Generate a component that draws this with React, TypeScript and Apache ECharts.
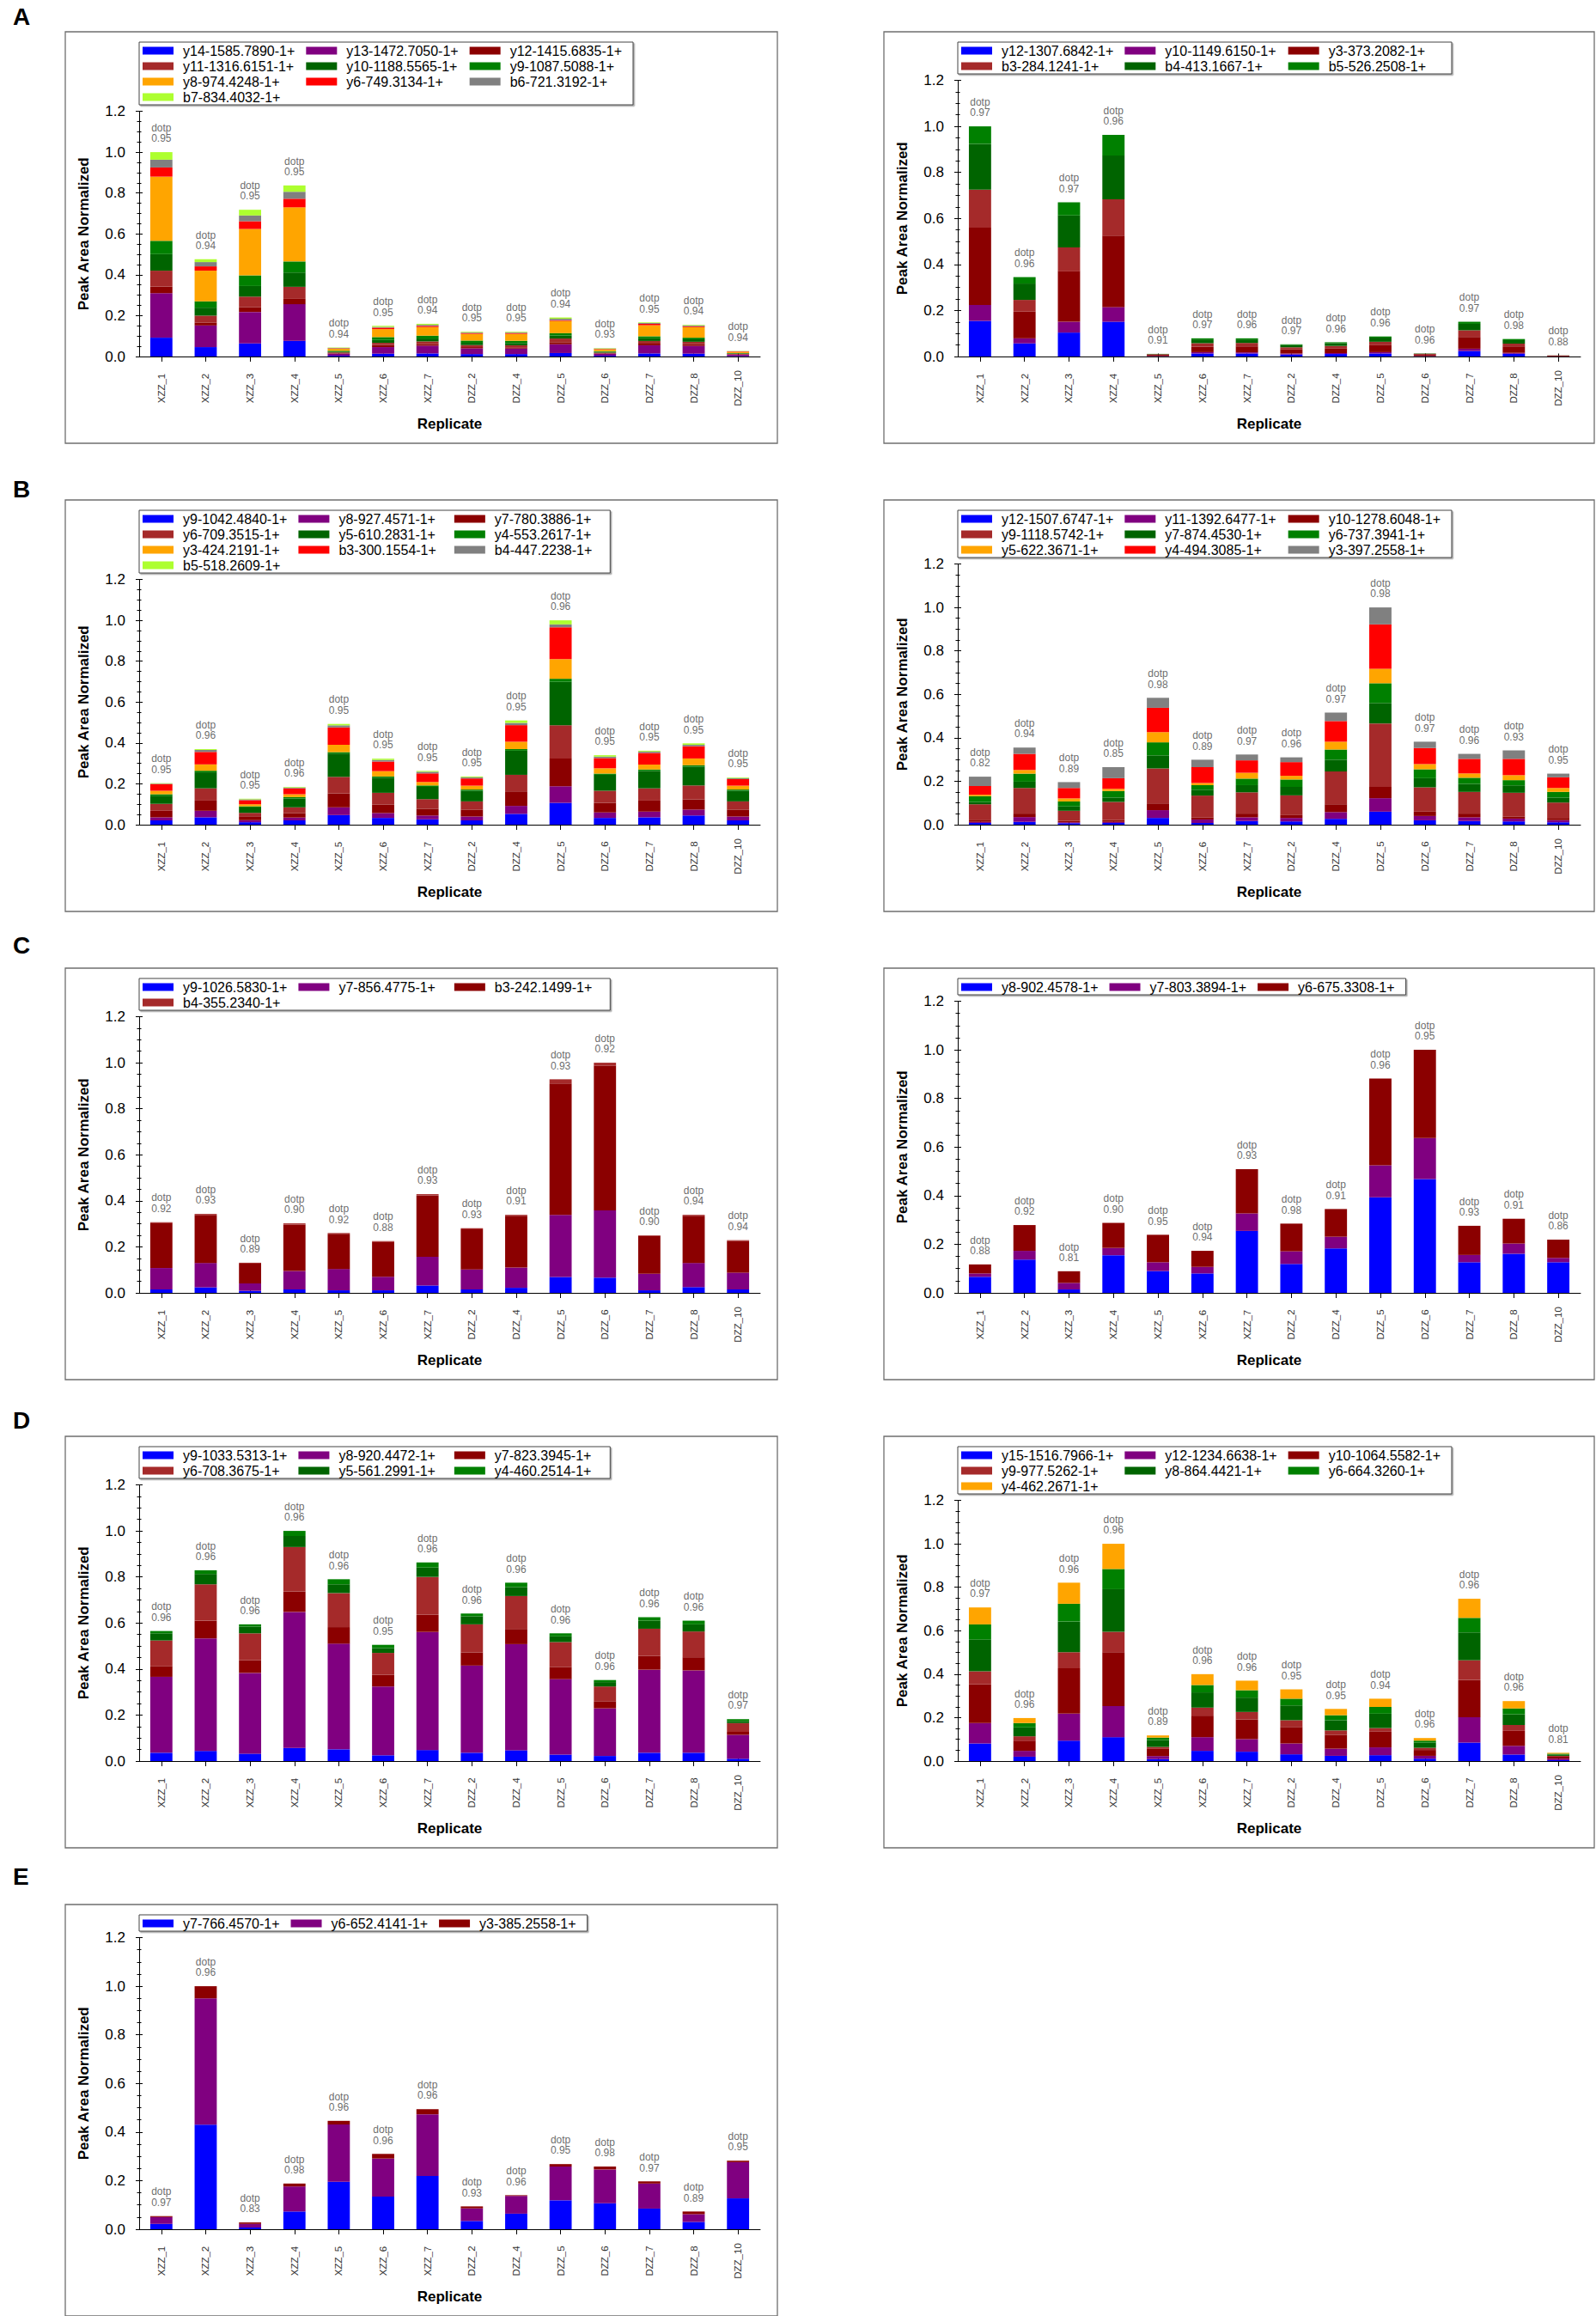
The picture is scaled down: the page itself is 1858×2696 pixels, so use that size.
import React, { useEffect, useRef } from "react";
import * as echarts from "echarts";

// ---------------- DATA ----------------
const replicates = ["XZZ_1", "XZZ_2", "XZZ_3", "XZZ_4", "XZZ_5", "XZZ_6", "XZZ_7", "DZZ_2", "DZZ_4", "DZZ_5", "DZZ_6", "DZZ_7", "DZZ_8", "DZZ_10"];
const yTickLabels = ["0.0", "0.2", "0.4", "0.6", "0.8", "1.0", "1.2"];
const panelLetters = ["A", "B", "C", "D", "E"];

// Panel A (left)
const ionsA1 = ["y14-1585.7890-1+", "y13-1472.7050-1+", "y12-1415.6835-1+", "y11-1316.6151-1+", "y10-1188.5565-1+", "y9-1087.5088-1+", "y8-974.4248-1+", "y6-749.3134-1+", "b6-721.3192-1+", "b7-834.4032-1+"];
const valuesA1 = [
  [0.092, 0.046, 0.064, 0.077, 0.004, 0.014, 0.015, 0.012, 0.012, 0.017, 0.004, 0.015, 0.014, 0.002],
  [0.218, 0.106, 0.154, 0.179, 0.010, 0.032, 0.038, 0.028, 0.027, 0.043, 0.010, 0.040, 0.038, 0.007],
  [0.032, 0.013, 0.024, 0.026, 0.002, 0.010, 0.008, 0.006, 0.006, 0.010, 0.002, 0.008, 0.008, 0.002],
  [0.078, 0.035, 0.051, 0.059, 0.004, 0.011, 0.013, 0.010, 0.010, 0.018, 0.003, 0.013, 0.012, 0.002],
  [0.081, 0.039, 0.052, 0.070, 0.004, 0.014, 0.014, 0.011, 0.011, 0.015, 0.004, 0.013, 0.012, 0.002],
  [0.065, 0.031, 0.052, 0.054, 0.004, 0.014, 0.014, 0.011, 0.011, 0.011, 0.003, 0.010, 0.008, 0.002],
  [0.314, 0.150, 0.227, 0.265, 0.010, 0.039, 0.042, 0.033, 0.034, 0.060, 0.009, 0.054, 0.052, 0.006],
  [0.045, 0.021, 0.038, 0.042, 0.002, 0.007, 0.006, 0.004, 0.004, 0.004, 0.002, 0.007, 0.004, 0.002],
  [0.038, 0.021, 0.028, 0.034, 0.002, 0.004, 0.005, 0.003, 0.003, 0.007, 0.002, 0.004, 0.004, 0.001],
  [0.037, 0.014, 0.028, 0.031, 0.002, 0.005, 0.005, 0.003, 0.003, 0.006, 0.002, 0.003, 0.003, 0.001],
];
const dotpA1 = [0.95, 0.94, 0.95, 0.95, 0.94, 0.95, 0.94, 0.95, 0.95, 0.94, 0.93, 0.95, 0.94, 0.94];

// Panel A (right)
const ionsA2 = ["y12-1307.6842-1+", "y10-1149.6150-1+", "y3-373.2082-1+", "b3-284.1241-1+", "b4-413.1667-1+", "b5-526.2508-1+"];
const valuesA2 = [
  [0.155, 0.057, 0.104, 0.151, 0.001, 0.013, 0.013, 0.009, 0.011, 0.013, 0.001, 0.024, 0.012, 0.0005],
  [0.069, 0.022, 0.047, 0.064, 0.001, 0.006, 0.005, 0.004, 0.004, 0.006, 0.001, 0.010, 0.004, 0.0005],
  [0.336, 0.116, 0.219, 0.310, 0.006, 0.024, 0.026, 0.019, 0.021, 0.030, 0.008, 0.051, 0.028, 0.003],
  [0.165, 0.051, 0.104, 0.158, 0.002, 0.015, 0.015, 0.008, 0.010, 0.015, 0.002, 0.029, 0.012, 0.0005],
  [0.199, 0.071, 0.139, 0.190, 0.001, 0.016, 0.015, 0.010, 0.012, 0.018, 0.001, 0.028, 0.015, 0.0003],
  [0.076, 0.028, 0.057, 0.090, 0.0005, 0.005, 0.005, 0.003, 0.004, 0.005, 0.0005, 0.009, 0.005, 0.0002],
];
const dotpA2 = [0.97, 0.96, 0.97, 0.96, 0.91, 0.97, 0.96, 0.97, 0.96, 0.96, 0.96, 0.97, 0.98, 0.88];

// Panel B (left)
const ionsB1 = ["y9-1042.4840-1+", "y8-927.4571-1+", "y7-780.3886-1+", "y6-709.3515-1+", "y5-610.2831-1+", "y4-553.2617-1+", "y3-424.2191-1+", "b3-300.1554-1+", "b4-447.2238-1+", "b5-518.2609-1+"];
const valuesB1 = [
  [0.021, 0.036, 0.012, 0.021, 0.047, 0.033, 0.026, 0.021, 0.053, 0.107, 0.033, 0.036, 0.045, 0.021],
  [0.015, 0.032, 0.010, 0.014, 0.038, 0.024, 0.019, 0.019, 0.039, 0.081, 0.027, 0.028, 0.029, 0.019],
  [0.032, 0.050, 0.019, 0.022, 0.068, 0.042, 0.033, 0.034, 0.071, 0.136, 0.047, 0.054, 0.050, 0.034],
  [0.034, 0.060, 0.017, 0.028, 0.081, 0.057, 0.047, 0.040, 0.081, 0.162, 0.059, 0.060, 0.068, 0.040],
  [0.040, 0.078, 0.026, 0.043, 0.114, 0.074, 0.060, 0.052, 0.118, 0.213, 0.078, 0.085, 0.092, 0.052],
  [0.007, 0.008, 0.006, 0.007, 0.007, 0.006, 0.007, 0.006, 0.008, 0.015, 0.006, 0.007, 0.007, 0.006],
  [0.017, 0.031, 0.010, 0.014, 0.036, 0.026, 0.017, 0.019, 0.036, 0.096, 0.026, 0.024, 0.033, 0.019],
  [0.033, 0.061, 0.020, 0.029, 0.085, 0.047, 0.042, 0.035, 0.081, 0.156, 0.050, 0.057, 0.060, 0.032],
  [0.002, 0.010, 0.004, 0.004, 0.010, 0.008, 0.008, 0.006, 0.011, 0.014, 0.007, 0.007, 0.007, 0.005],
  [0.002, 0.004, 0.003, 0.003, 0.007, 0.006, 0.004, 0.004, 0.012, 0.020, 0.007, 0.004, 0.007, 0.003],
];
const dotpB1 = [0.95, 0.96, 0.95, 0.96, 0.95, 0.95, 0.95, 0.95, 0.95, 0.96, 0.95, 0.95, 0.95, 0.95];

// Panel B (right)
const ionsB2 = ["y12-1507.6747-1+", "y11-1392.6477-1+", "y10-1278.6048-1+", "y9-1118.5742-1+", "y7-874.4530-1+", "y6-737.3941-1+", "y5-622.3671-1+", "y4-494.3085-1+", "y3-397.2558-1+"];
const valuesB2 = [
  [0.008, 0.013, 0.007, 0.008, 0.031, 0.008, 0.017, 0.015, 0.027, 0.060, 0.020, 0.017, 0.015, 0.011],
  [0.005, 0.022, 0.004, 0.005, 0.036, 0.016, 0.017, 0.016, 0.031, 0.062, 0.020, 0.017, 0.013, 0.010],
  [0.007, 0.016, 0.006, 0.008, 0.031, 0.010, 0.017, 0.013, 0.036, 0.052, 0.020, 0.017, 0.010, 0.010],
  [0.074, 0.118, 0.047, 0.084, 0.161, 0.100, 0.098, 0.091, 0.151, 0.292, 0.112, 0.100, 0.109, 0.071],
  [0.011, 0.029, 0.020, 0.020, 0.060, 0.027, 0.033, 0.039, 0.054, 0.094, 0.042, 0.037, 0.034, 0.023],
  [0.026, 0.037, 0.023, 0.030, 0.060, 0.021, 0.030, 0.034, 0.047, 0.091, 0.041, 0.028, 0.024, 0.026],
  [0.007, 0.017, 0.014, 0.010, 0.047, 0.010, 0.027, 0.017, 0.036, 0.067, 0.024, 0.020, 0.023, 0.018],
  [0.040, 0.074, 0.048, 0.049, 0.112, 0.073, 0.057, 0.063, 0.095, 0.204, 0.074, 0.067, 0.075, 0.049],
  [0.043, 0.029, 0.027, 0.051, 0.046, 0.034, 0.027, 0.022, 0.039, 0.078, 0.029, 0.023, 0.039, 0.017],
];
const dotpB2 = [0.82, 0.94, 0.89, 0.85, 0.98, 0.89, 0.97, 0.96, 0.97, 0.98, 0.97, 0.96, 0.93, 0.95];

// Panel C (left)
const ionsC1 = ["y9-1026.5830-1+", "y7-856.4775-1+", "b3-242.1499-1+", "b4-355.2340-1+"];
const valuesC1 = [
  [0.015, 0.024, 0.009, 0.015, 0.011, 0.011, 0.032, 0.015, 0.022, 0.069, 0.066, 0.011, 0.025, 0.015],
  [0.093, 0.106, 0.032, 0.080, 0.093, 0.059, 0.125, 0.087, 0.088, 0.270, 0.292, 0.072, 0.105, 0.073],
  [0.195, 0.209, 0.086, 0.202, 0.153, 0.151, 0.267, 0.174, 0.225, 0.571, 0.629, 0.165, 0.205, 0.137],
  [0.004, 0.004, 0.004, 0.005, 0.003, 0.004, 0.005, 0.005, 0.004, 0.018, 0.013, 0.002, 0.004, 0.004],
];
const dotpC1 = [0.92, 0.93, 0.89, 0.90, 0.92, 0.88, 0.93, 0.93, 0.91, 0.93, 0.92, 0.90, 0.94, 0.94];

// Panel C (right)
const ionsC2 = ["y8-902.4578-1+", "y7-803.3894-1+", "y6-675.3308-1+"];
const valuesC2 = [
  [0.066, 0.137, 0.014, 0.155, 0.090, 0.080, 0.255, 0.119, 0.183, 0.393, 0.468, 0.126, 0.161, 0.126],
  [0.014, 0.036, 0.027, 0.030, 0.036, 0.027, 0.072, 0.052, 0.048, 0.132, 0.169, 0.030, 0.042, 0.018],
  [0.037, 0.106, 0.048, 0.103, 0.113, 0.066, 0.182, 0.114, 0.114, 0.357, 0.363, 0.120, 0.102, 0.075],
];
const dotpC2 = [0.88, 0.92, 0.81, 0.90, 0.95, 0.94, 0.93, 0.98, 0.91, 0.96, 0.95, 0.93, 0.91, 0.86];

// Panel D (left)
const ionsD1 = ["y9-1033.5313-1+", "y8-920.4472-1+", "y7-823.3945-1+", "y6-708.3675-1+", "y5-561.2991-1+", "y4-460.2514-1+"];
const valuesD1 = [
  [0.036, 0.044, 0.032, 0.057, 0.051, 0.025, 0.048, 0.036, 0.047, 0.028, 0.022, 0.036, 0.036, 0.010],
  [0.330, 0.489, 0.351, 0.591, 0.459, 0.299, 0.513, 0.379, 0.461, 0.328, 0.207, 0.361, 0.358, 0.104],
  [0.047, 0.077, 0.055, 0.089, 0.072, 0.051, 0.074, 0.057, 0.066, 0.053, 0.031, 0.060, 0.057, 0.013],
  [0.111, 0.158, 0.117, 0.193, 0.148, 0.095, 0.165, 0.122, 0.143, 0.108, 0.064, 0.118, 0.112, 0.038],
  [0.031, 0.045, 0.029, 0.048, 0.038, 0.021, 0.041, 0.035, 0.039, 0.025, 0.019, 0.035, 0.031, 0.009],
  [0.010, 0.016, 0.010, 0.022, 0.022, 0.014, 0.022, 0.012, 0.019, 0.013, 0.009, 0.015, 0.016, 0.008],
];
const dotpD1 = [0.96, 0.96, 0.96, 0.96, 0.96, 0.95, 0.96, 0.96, 0.96, 0.96, 0.96, 0.96, 0.96, 0.97];

// Panel D (right)
const ionsD2 = ["y15-1516.7966-1+", "y12-1234.6638-1+", "y10-1064.5582-1+", "y9-977.5262-1+", "y8-864.4421-1+", "y6-664.3260-1+", "y4-462.2671-1+"];
const valuesD2 = [
  [0.081, 0.020, 0.094, 0.110, 0.009, 0.047, 0.043, 0.031, 0.024, 0.027, 0.011, 0.085, 0.030, 0.004],
  [0.094, 0.027, 0.124, 0.143, 0.014, 0.063, 0.058, 0.050, 0.033, 0.036, 0.013, 0.117, 0.040, 0.007],
  [0.178, 0.047, 0.209, 0.248, 0.035, 0.099, 0.090, 0.076, 0.064, 0.074, 0.027, 0.172, 0.069, 0.009],
  [0.060, 0.020, 0.074, 0.094, 0.007, 0.037, 0.035, 0.031, 0.020, 0.015, 0.010, 0.090, 0.027, 0.004],
  [0.146, 0.041, 0.141, 0.196, 0.032, 0.070, 0.066, 0.068, 0.047, 0.066, 0.024, 0.128, 0.049, 0.006],
  [0.070, 0.020, 0.082, 0.093, 0.011, 0.034, 0.034, 0.031, 0.023, 0.031, 0.009, 0.067, 0.027, 0.004],
  [0.078, 0.023, 0.097, 0.116, 0.010, 0.050, 0.044, 0.043, 0.029, 0.038, 0.012, 0.088, 0.034, 0.004],
];
const dotpD2 = [0.97, 0.96, 0.96, 0.96, 0.89, 0.96, 0.96, 0.95, 0.95, 0.94, 0.96, 0.96, 0.96, 0.81];

// Panel E
const ionsE = ["y7-766.4570-1+", "y6-652.4141-1+", "y3-385.2558-1+"];
const valuesE = [
  [0.022, 0.430, 0.007, 0.073, 0.195, 0.134, 0.219, 0.034, 0.064, 0.119, 0.107, 0.085, 0.030, 0.127],
  [0.028, 0.520, 0.015, 0.103, 0.236, 0.157, 0.254, 0.052, 0.073, 0.139, 0.139, 0.103, 0.032, 0.149],
  [0.004, 0.050, 0.006, 0.012, 0.015, 0.019, 0.021, 0.008, 0.003, 0.010, 0.012, 0.009, 0.011, 0.006],
];
const dotpE = [0.97, 0.96, 0.83, 0.98, 0.96, 0.96, 0.96, 0.93, 0.96, 0.95, 0.98, 0.97, 0.89, 0.95];

// ---------------- STYLE / LAYOUT ----------------
const W = 1858;
const H = 2696;
const FONT = '"Liberation Sans", Arial, Helvetica, sans-serif';
const palette = ["#0000FF", "#800080", "#8B0000", "#A52A2A", "#006400", "#008000", "#FFA500", "#FF0000", "#808080", "#ADFF2F"];
const boxTops = [37, 582, 1127, 1672, 2217];
const letterTops = [10, 560, 1091, 1644, 2175];
const boxLeft = [76, 1029];
const boxRight = [905, 1856];
const axisX = [162, 1115];
const plotRight = [885, 1840];

const panels = [
  { ions: ionsA1, values: valuesA1, dotp: dotpA1, row: 0, col: 0 },
  { ions: ionsA2, values: valuesA2, dotp: dotpA2, row: 0, col: 1 },
  { ions: ionsB1, values: valuesB1, dotp: dotpB1, row: 1, col: 0 },
  { ions: ionsB2, values: valuesB2, dotp: dotpB2, row: 1, col: 1 },
  { ions: ionsC1, values: valuesC1, dotp: dotpC1, row: 2, col: 0 },
  { ions: ionsC2, values: valuesC2, dotp: dotpC2, row: 2, col: 1 },
  { ions: ionsD1, values: valuesD1, dotp: dotpD1, row: 3, col: 0 },
  { ions: ionsD2, values: valuesD2, dotp: dotpD2, row: 3, col: 1 },
  { ions: ionsE, values: valuesE, dotp: dotpE, row: 4, col: 0 },
];

function measureMax(labels: string[]): number {
  const ctx = document.createElement("canvas").getContext("2d");
  if (!ctx) return Math.max(...labels.map((l) => l.length)) * 8.2;
  ctx.font = "16px " + FONT;
  return Math.max(...labels.map((l) => ctx.measureText(l).width));
}

function buildOption() {
  const grid: any[] = [];
  const xAxis: any[] = [];
  const yAxis: any[] = [];
  const series: any[] = [];
  const legend: any[] = [];
  const graphic: any[] = [];

  // panel frames
  panels.forEach((p) => {
    const top = boxTops[p.row];
    graphic.push({
      type: "rect",
      silent: true,
      z: -10,
      shape: { x: boxLeft[p.col], y: top, width: boxRight[p.col] - boxLeft[p.col], height: 479 },
      style: { fill: "#fff", stroke: "#6f6f6f", lineWidth: 1.3 },
    });
  });
  panelLetters.forEach((l, r) => {
    graphic.push({
      type: "text",
      silent: true,
      x: 15,
      y: letterTops[r] - 5,
      style: { text: l, font: "bold 28px " + FONT, fill: "#000", textVerticalAlign: "top" },
    });
  });

  panels.forEach((p, i) => {
    const boxTop = boxTops[p.row];
    const rows = Math.ceil(p.ions.length / 3);
    const legendH = rows * 16 + (rows - 1) * 2 + 3;
    const gTop = boxTop + 12 + legendH + 7.5;
    const gBottom = boxTop + 378;
    const ax = axisX[p.col];
    grid.push({ left: ax, top: gTop, width: plotRight[p.col] - ax, height: gBottom - gTop, containLabel: false });

    xAxis.push({
      gridIndex: i,
      type: "category",
      data: replicates,
      position: "bottom",
      axisLine: { show: true, lineStyle: { color: "#000", width: 1 } },
      axisTick: { show: true, alignWithLabel: true, interval: 0, length: 6, lineStyle: { color: "#000" } },
      axisLabel: { interval: 0, rotate: 90, align: "center", margin: 37, fontSize: 11.5, color: "#333", fontFamily: FONT },
      splitLine: { show: false },
      name: "Replicate",
      nameLocation: "middle",
      nameGap: 70,
      nameTextStyle: { fontWeight: "bold", fontSize: 17, color: "#000", fontFamily: FONT },
    });
    xAxis.push({
      gridIndex: i,
      type: "category",
      data: replicates,
      position: "bottom",
      axisLine: { show: false },
      axisTick: { show: true, inside: true, alignWithLabel: true, interval: 0, length: 3.5, lineStyle: { color: "#000" } },
      axisLabel: { show: false },
      splitLine: { show: false },
    });

    yAxis.push({
      gridIndex: i,
      type: "value",
      min: 0,
      max: 1.2,
      interval: 0.2,
      position: "left",
      axisLine: { show: true, lineStyle: { color: "#000", width: 1 } },
      axisTick: { show: true, length: 4, lineStyle: { color: "#000" } },
      minorTick: { show: true, splitNumber: 4, length: 2.5, lineStyle: { color: "#000" } },
      splitLine: { show: false },
      axisLabel: {
        formatter: (v: number) => yTickLabels[Math.round(v / 0.2)] ?? v.toFixed(1),
        fontSize: 17,
        color: "#000",
        margin: 16,
        fontFamily: FONT,
      },
      name: "Peak Area Normalized",
      nameLocation: "middle",
      nameGap: 56,
      nameTextStyle: { fontWeight: "bold", fontSize: 17, color: "#000", fontFamily: FONT },
    });
    yAxis.push({
      gridIndex: i,
      type: "value",
      min: 0,
      max: 1.2,
      interval: 0.2,
      position: "left",
      axisLine: { show: false },
      axisTick: { show: true, inside: true, length: 4, lineStyle: { color: "#000" } },
      minorTick: { show: true, splitNumber: 4, length: 2.5, lineStyle: { color: "#000" } },
      splitLine: { show: false },
      axisLabel: { show: false },
    });

    p.ions.forEach((name, k) => {
      series.push({
        type: "bar",
        name,
        xAxisIndex: 2 * i,
        yAxisIndex: 2 * i,
        stack: "panel" + i,
        barWidth: "50%",
        data: p.values[k],
        itemStyle: { color: palette[k] },
        silent: true,
      });
    });

    const totals = replicates.map((_, j) => p.values.reduce((s, arr) => s + arr[j], 0));
    series.push({
      type: "scatter",
      xAxisIndex: 2 * i,
      yAxisIndex: 2 * i,
      data: totals,
      symbol: "rect",
      symbolSize: 1,
      itemStyle: { color: "rgba(0,0,0,0)" },
      silent: true,
      z: 5,
      label: {
        show: true,
        position: "top",
        distance: 9,
        formatter: (prm: any) => "dotp\n" + p.dotp[prm.dataIndex].toFixed(2),
        fontSize: 12,
        lineHeight: 12.5,
        color: "#444",
        fontFamily: FONT,
      },
    });

    const tw = measureMax(p.ions) + 11;
    const itemW = 36 + 5 + 6 + tw;
    legend.push({
      data: p.ions,
      left: ax,
      top: boxTop + 12,
      orient: "horizontal",
      width: 3 * itemW + 2 * 2 + 6,
      itemWidth: 36,
      itemHeight: 9,
      itemGap: 2,
      icon: "rect",
      padding: [2, 2, 1, 4],
      borderColor: "#444",
      borderWidth: 1,
      backgroundColor: "#fff",
      shadowColor: "rgba(0,0,0,0.35)",
      shadowOffsetX: 1.5,
      shadowOffsetY: 1.5,
      shadowBlur: 0,
      selectedMode: false,
      itemStyle: { borderWidth: 0 },
      textStyle: { fontSize: 16, lineHeight: 16, width: tw, padding: [0, 0, 0, 6], color: "#000", fontFamily: FONT },
    });
  });

  return {
    animation: false,
    backgroundColor: "#fff",
    textStyle: { fontFamily: FONT },
    grid,
    xAxis,
    yAxis,
    legend,
    series,
    graphic,
  };
}

export default function App() {
  const ref = useRef<HTMLDivElement>(null);
  useEffect(() => {
    if (!ref.current) return;
    const chart = echarts.init(ref.current, null, { renderer: "svg", width: W, height: H });
    chart.setOption(buildOption() as any);
    return () => chart.dispose();
  }, []);
  return <div ref={ref} style={{ position: "absolute", left: 0, top: 0, width: W, height: H, background: "#fff" }} />;
}
